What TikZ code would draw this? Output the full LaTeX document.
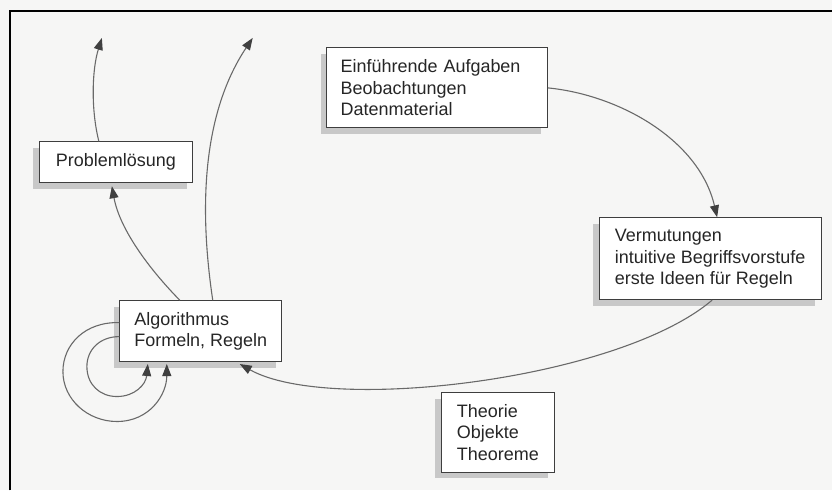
\documentclass[tikz,border=0pt]{standalone}
\usepackage{fontspec}
\setmainfont{Liberation Sans}
\usetikzlibrary{arrows.meta,positioning,shadows}
\definecolor{paper}{RGB}{246,246,245}
\definecolor{ink}{RGB}{62,62,62}
\definecolor{wire}{RGB}{105,105,105}
\definecolor{shade}{RGB}{200,200,200}

\begin{document}
\begin{tikzpicture}[x=1pt,y=-1pt,box/.style={draw=ink,line width=.9pt,fill=white,align=left,inner xsep=14pt,font=\fontsize{18}{21.5}\selectfont,text=black!85,drop shadow={shadow xshift=-6pt,shadow yshift=-6pt,fill=shade,opacity=1}},arrow/.style={-{Triangle[length=12pt,width=9pt,color=black!75]},line width=1.1pt,draw=wire}]
\fill[paper] (0,0) rectangle (833,491);
\draw[line width=2pt] (10,491)--(10,11)--(833,11);
% boxes
\node[box,minimum width=154pt,minimum height=41pt] (prob) at (116,162.5) {Problemlösung};
\node[box,text width=193pt,minimum height=80pt] (intro) at (437.5,88) {Einführende Aufgaben\\Beobachtungen\\Datenmaterial};
\node[box,minimum width=222pt,minimum height=82pt] (verm) at (711,259) {Vermutungen\\intuitive Begriffsvorstufe\\erste Ideen für Regeln};
\node[box,minimum width=162pt,minimum height=61pt] (algo) at (201,331.5) {Algorithmus\\Formeln, Regeln};
\node[box,minimum width=113pt,minimum height=80pt] (theo) at (498.5,433) {Theorie\\Objekte\\Theoreme};
\coordinate (probtip) at (102,38);
\coordinate (algotip) at (253,38);
% connectors
\draw[arrow] ([xshift=-17pt]prob.north) .. controls (91,110) and (92,70) .. (probtip);
\draw[arrow] ([xshift=12pt]algo.north) .. controls (198,200) and (205,110) .. (algotip);
\draw[arrow] ([xshift=-21pt]algo.north) .. controls (150,270) and (120,230) .. ([xshift=-4pt,yshift=-3pt]prob.south);
\draw[arrow] (intro.east) .. controls (620,95) and (700,140) .. ([xshift=7pt]verm.north);
\draw[arrow] ([xshift=2pt]verm.south) .. controls (620,380) and (330,415) .. ([xshift=39pt,yshift=-2pt]algo.south);
% loops
\draw[arrow] ([yshift=8.5pt]algo.west) .. controls (85,322) and (63,345) .. (63,372) .. controls (63,400) and (88,422) .. (117,422) .. controls (150,422) and (167,395) .. ([xshift=-34pt,yshift=-2pt]algo.south);
\draw[arrow] ([yshift=-5.5pt]algo.west) .. controls (100,337) and (87,350) .. (87,367) .. controls (87,385) and (100,397) .. (117,397) .. controls (135,397) and (146,385) .. ([xshift=-53pt,yshift=-2pt]algo.south);
\end{tikzpicture}
\end{document}
